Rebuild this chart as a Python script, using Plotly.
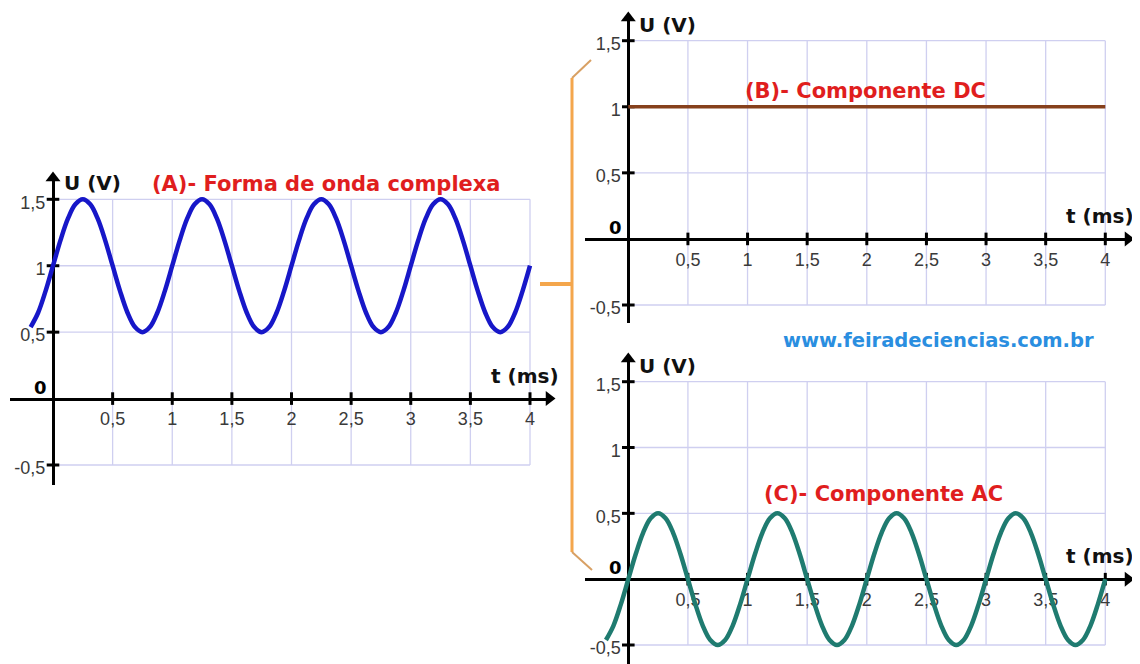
import plotly.graph_objects as go

# page body adds an 8px margin, so the figure is placed at (8, 8) in the window
OX, OY = 8, 8
W, H = 1140 - OX, 664 - OY

# ---------------- data ----------------
t_ticks = [0.5, 1, 1.5, 2, 2.5, 3, 3.5, 4]
t_tick_labels = ["0,5", "1", "1,5", "2", "2,5", "3", "3,5", "4"]
u_ticks = [-0.5, 0.5, 1, 1.5]
u_tick_labels = ["-0,5", "0,5", "1", "1,5"]
grid_t = [0.5, 1, 1.5, 2, 2.5, 3, 3.5, 4]
grid_u = [-0.5, 0.5, 1, 1.5]

# time samples (ms)
t_wave = [-0.1875, -0.125, -0.0625,
          0.0, 0.0625, 0.125, 0.1875, 0.25, 0.3125, 0.375, 0.4375,
          0.5, 0.5625, 0.625, 0.6875, 0.75, 0.8125, 0.875, 0.9375,
          1.0, 1.0625, 1.125, 1.1875, 1.25, 1.3125, 1.375, 1.4375,
          1.5, 1.5625, 1.625, 1.6875, 1.75, 1.8125, 1.875, 1.9375,
          2.0, 2.0625, 2.125, 2.1875, 2.25, 2.3125, 2.375, 2.4375,
          2.5, 2.5625, 2.625, 2.6875, 2.75, 2.8125, 2.875, 2.9375,
          3.0, 3.0625, 3.125, 3.1875, 3.25, 3.3125, 3.375, 3.4375,
          3.5, 3.5625, 3.625, 3.6875, 3.75, 3.8125, 3.875, 3.9375,
          4.0]
# (A) complex waveform (V)
u_complex = [0.538, 0.646, 0.809,
             1.0, 1.191, 1.354, 1.462, 1.5, 1.462, 1.354, 1.191,
             1.0, 0.809, 0.646, 0.538, 0.5, 0.538, 0.646, 0.809,
             1.0, 1.191, 1.354, 1.462, 1.5, 1.462, 1.354, 1.191,
             1.0, 0.809, 0.646, 0.538, 0.5, 0.538, 0.646, 0.809,
             1.0, 1.191, 1.354, 1.462, 1.5, 1.462, 1.354, 1.191,
             1.0, 0.809, 0.646, 0.538, 0.5, 0.538, 0.646, 0.809,
             1.0, 1.191, 1.354, 1.462, 1.5, 1.462, 1.354, 1.191,
             1.0, 0.809, 0.646, 0.538, 0.5, 0.538, 0.646, 0.809,
             1.0]
# (B) DC component
t_dc = [0, 4]
u_dc = [1.0, 1.0]
# (C) AC component (V)
u_ac = [-0.462, -0.354, -0.191,
        0.0, 0.191, 0.354, 0.462, 0.5, 0.462, 0.354, 0.191,
        0.0, -0.191, -0.354, -0.462, -0.5, -0.462, -0.354, -0.191,
        0.0, 0.191, 0.354, 0.462, 0.5, 0.462, 0.354, 0.191,
        0.0, -0.191, -0.354, -0.462, -0.5, -0.462, -0.354, -0.191,
        0.0, 0.191, 0.354, 0.462, 0.5, 0.462, 0.354, 0.191,
        0.0, -0.191, -0.354, -0.462, -0.5, -0.462, -0.354, -0.191,
        0.0, 0.191, 0.354, 0.462, 0.5, 0.462, 0.354, 0.191,
        0.0, -0.191, -0.354, -0.462, -0.5, -0.462, -0.354, -0.191,
        0.0]

# ---------------- layout geometry (window pixels) ----------------
panels = [
    dict(t0=53.0, t4=530.0, u15=199.3, um05=465.0, xl=10, xr=549, yt=178, yb=485),
    dict(t0=628.3, t4=1105.3, u15=40.7, um05=305.0, xl=585, xr=1128, yt=18, yb=323),
    dict(t0=628.3, t4=1105.3, u15=381.7, um05=645.0, xl=585, xr=1128, yt=359, yb=664),
]


def fx(x):
    return (x - OX) / W


def fy(y):
    return 1 - (y - OY) / H


TICK_FONT = dict(family="Liberation Sans, Arial, sans-serif", size=18, color="#3a3a3a")
BOLD = "DejaVu Sans, Verdana, sans-serif"
GRID = "#cfcff0"

fig = go.Figure()
layout = dict(width=W, height=H, margin=dict(l=0, r=0, t=0, b=0),
              paper_bgcolor="white", plot_bgcolor="rgba(0,0,0,0)",
              showlegend=False)
shapes = []
annotations = []

for i, p in enumerate(panels):
    sx = (p["t4"] - p["t0"]) / 4.0
    sy = (p["um05"] - p["u15"]) / 2.0
    u0 = p["u15"] + 1.5 * sy
    xr = [(p["xl"] - p["t0"]) / sx, (p["xr"] - p["t0"]) / sx]
    yr = [(u0 - p["yb"]) / sy, (u0 - p["yt"]) / sy]
    sfx = "" if i == 0 else str(i + 1)
    layout["xaxis" + sfx] = dict(
        domain=[fx(p["xl"]), fx(p["xr"])], range=xr, anchor="free",
        position=fy(u0), showgrid=False, zeroline=False,
        showline=True, linecolor="black", linewidth=3,
        tickmode="array", tickvals=t_ticks, ticktext=t_tick_labels,
        ticks="outside", ticklen=3, tickcolor="rgba(0,0,0,0)",
        tickfont=TICK_FONT, fixedrange=True, layer="below traces")
    layout["yaxis" + sfx] = dict(
        domain=[fy(p["yb"]), fy(p["yt"])], range=yr, anchor="free",
        position=fx(p["t0"]), showgrid=False, zeroline=False,
        showline=True, linecolor="black", linewidth=3,
        tickmode="array", tickvals=u_ticks, ticktext=u_tick_labels,
        ticks="outside", ticklen=3, tickcolor="rgba(0,0,0,0)",
        ticklabelshift=3,
        tickfont=TICK_FONT, fixedrange=True, layer="below traces")
    xref = "x" + sfx
    yref = "y" + sfx
    # grid
    for gt in grid_t:
        shapes.append(dict(type="line", xref=xref, yref=yref, x0=gt, x1=gt,
                           y0=min(grid_u), y1=max(grid_u),
                           line=dict(color=GRID, width=1.3), layer="below"))
    for gu in grid_u:
        shapes.append(dict(type="line", xref=xref, yref=yref, x0=0, x1=max(grid_t),
                           y0=gu, y1=gu,
                           line=dict(color=GRID, width=1.3), layer="below"))
    # cross ticks
    fig.add_trace(go.Scatter(x=t_ticks, y=[0] * len(t_ticks), xaxis=xref, yaxis=yref,
                             mode="markers", hoverinfo="skip", cliponaxis=False,
                             marker=dict(symbol="line-ns", size=9,
                                         line=dict(color="black", width=3))))
    fig.add_trace(go.Scatter(x=[0] * len(u_ticks), y=u_ticks, xaxis=xref, yaxis=yref,
                             mode="markers", hoverinfo="skip", cliponaxis=False,
                             marker=dict(symbol="line-ew", size=9,
                                         line=dict(color="black", width=3))))
    # arrow heads
    fig.add_trace(go.Scatter(x=[xr[1]], y=[0], xaxis=xref, yaxis=yref,
                             mode="markers", hoverinfo="skip", cliponaxis=False,
                             marker=dict(symbol="triangle-right", size=13, color="black")))
    fig.add_trace(go.Scatter(x=[0], y=[yr[1]], xaxis=xref, yaxis=yref,
                             mode="markers", hoverinfo="skip", cliponaxis=False,
                             marker=dict(symbol="triangle-up", size=13, color="black")))
    # "0" label at origin
    annotations.append(dict(xref=xref, yref=yref, x=0, y=0, text="<b>0</b>",
                            showarrow=False, xanchor="right", yanchor="bottom",
                            xshift=-4, yshift=-1,
                            font=dict(family=BOLD, size=18, color="black")))
    # U (V)
    annotations.append(dict(xref=xref, yref=yref, x=0, y=1.5, text="<b>U (V)</b>",
                            showarrow=False, xanchor="left", yanchor="middle",
                            xshift=9, yshift=16,
                            font=dict(family=BOLD, size=20, color="#111111")))
    # t (ms)
    annotations.append(dict(xref=xref, yref=yref, x=4, y=0, text="<b>t (ms)</b>",
                            showarrow=False, xanchor="center", yanchor="middle",
                            xshift=-5, yshift=23,
                            font=dict(family=BOLD, size=20, color="#111111")))

# curves
fig.add_trace(go.Scatter(x=t_wave, y=u_complex, xaxis="x", yaxis="y", mode="lines",
                         line=dict(color="#1717c8", width=4.5, shape="spline"),
                         hoverinfo="skip"))
fig.add_trace(go.Scatter(x=t_dc, y=u_dc, xaxis="x2", yaxis="y2", mode="lines",
                         line=dict(color="#86401c", width=3.5), hoverinfo="skip"))
fig.add_trace(go.Scatter(x=t_wave, y=u_ac, xaxis="x3", yaxis="y3", mode="lines",
                         line=dict(color="#1f7b70", width=4.5, shape="spline"),
                         hoverinfo="skip"))

RED = "#e01e1e"
annotations += [
    dict(xref="paper", yref="paper", x=fx(326), y=fy(184), text="<b>(A)- Forma de onda complexa</b>",
         showarrow=False, xanchor="center", yanchor="middle",
         font=dict(family=BOLD, size=21, color=RED)),
    dict(xref="paper", yref="paper", x=fx(866), y=fy(91), text="<b>(B)- Componente DC</b>",
         showarrow=False, xanchor="center", yanchor="middle",
         font=dict(family=BOLD, size=21, color=RED)),
    dict(xref="paper", yref="paper", x=fx(883), y=fy(494), text="<b>(C)- Componente AC</b>",
         showarrow=False, xanchor="center", yanchor="middle",
         font=dict(family=BOLD, size=21, color=RED)),
    dict(xref="paper", yref="paper", x=fx(938), y=fy(341), text="<b>www.feiradeciencias.com.br</b>",
         showarrow=False, xanchor="center", yanchor="middle",
         font=dict(family=BOLD, size=19.5, color="#2a8ee0")),
]

# orange brace
ORANGE = "#f4a64c"
shapes += [
    dict(type="path", xref="paper", yref="paper",
         path=f"M {fx(591)} {fy(60)} L {fx(572)} {fy(78)}",
         line=dict(color="#d8a064", width=2)),
    dict(type="line", xref="paper", yref="paper", x0=fx(572), x1=fx(572),
         y0=fy(78), y1=fy(552), line=dict(color=ORANGE, width=3)),
    dict(type="path", xref="paper", yref="paper",
         path=f"M {fx(572)} {fy(552)} L {fx(592)} {fy(570)}",
         line=dict(color="#d8a064", width=2)),
    dict(type="line", xref="paper", yref="paper", x0=fx(540), x1=fx(572),
         y0=fy(284), y1=fy(284), line=dict(color=ORANGE, width=4)),
]

layout["shapes"] = shapes
layout["annotations"] = annotations
fig.update_layout(**layout)
fig.write_html("out.html")
